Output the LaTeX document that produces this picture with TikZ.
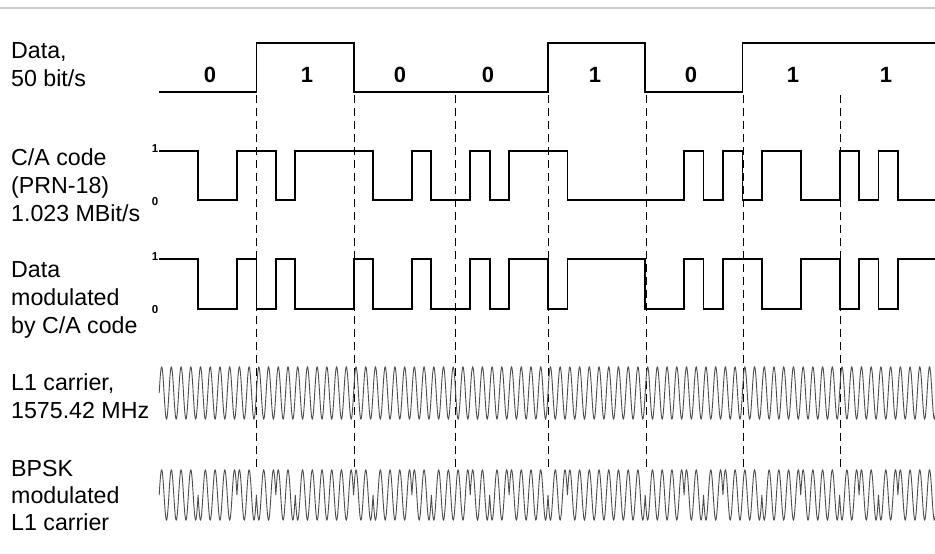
\documentclass[tikz,border=0pt]{standalone}
\usepackage{fontspec}
\setmainfont{Liberation Sans}
\begin{document}
\begin{tikzpicture}[x=1pt,y=-1pt,
  lbl/.style={anchor=base west, inner sep=0pt, font=\fontsize{23.2}{27}\selectfont},
  bitlbl/.style={inner sep=0pt, font=\bfseries\fontsize{22}{26}\selectfont},
  lvl/.style={anchor=east, inner sep=0pt, font=\bfseries\fontsize{11.5}{13}\selectfont},
  sq/.style={line width=1.8pt, line join=miter},
  wave/.style={line width=0.9pt, black!70},
  guide/.style={line width=0.8pt, dash pattern=on 8pt off 5pt}]
\useasboundingbox (0,0) rectangle (935,554);
\fill[white] (0,0) rectangle (935,554);
\draw[gray!40, line width=1.5pt] (0,8) -- (935,8);

% left labels
\node[lbl] (l1a) at (11,58) {Data,};
\node[lbl] (l1b) at (11,86) {50 bit/s};
\node[lbl] (l2a) at (11,165) {C/A code};
\node[lbl] (l2b) at (11,193) {(PRN-18)};
\node[lbl] (l2c) at (11,221) {1.023 MBit/s};
\node[lbl] (l3a) at (11,277) {Data};
\node[lbl] (l3b) at (11,305) {modulated};
\node[lbl] (l3c) at (11,333) {by C/A code};
\node[lbl] (l4a) at (11,390) {L1 carrier,};
\node[lbl] (l4b) at (11,418) {1575.42 MHz};
\node[lbl] (l5a) at (11,476) {BPSK};
\node[lbl] (l5b) at (11,503) {modulated};
\node[lbl] (l5c) at (11,530) {L1 carrier};

% level labels
\node[lvl] (ca1) at (158.5,149) {1};
\node[lvl] (ca0) at (158.5,202) {0};
\node[lvl] (dm1) at (158.5,257) {1};
\node[lvl] (dm0) at (158.5,310) {0};

% bit labels
\node[bitlbl] (b0) at (210,75) {0};
\node[bitlbl] (b1) at (307,75) {1};
\node[bitlbl] (b2) at (400,75) {0};
\node[bitlbl] (b3) at (488,75) {0};
\node[bitlbl] (b4) at (595,75) {1};
\node[bitlbl] (b5) at (691,75) {0};
\node[bitlbl] (b6) at (793,75) {1};
\node[bitlbl] (b7) at (886,75) {1};

% dashed guides
\foreach \gx in {256.5,354,455,548,646,743,840.5}
  \draw[guide] (\gx,95) -- (\gx,470);

\begin{scope}[shift={(159.2pt,0pt)}, x=19.44pt]
% data
\draw[sq] (0,92) -- (5,92) -- (5,43) -- (10,43) -- (10,92) -- (20,92) -- (20,43) -- (25,43) -- (25,92) -- (30,92) -- (30,43) -- (39.9,43);
% C/A code
\draw[sq] (0,151) -- (2,151) -- (2,200) -- (4,200) -- (4,151) -- (6,151) -- (6,200) -- (7,200) -- (7,151) -- (11,151) -- (11,200) -- (13,200) -- (13,151) -- (14,151) -- (14,200) -- (16,200) -- (16,151) -- (17,151) -- (17,200) -- (18,200) -- (18,151) -- (21,151) -- (21,200) -- (27,200) -- (27,151) -- (28,151) -- (28,200) -- (29,200) -- (29,151) -- (30,151) -- (30,200) -- (31,200) -- (31,151) -- (33,151) -- (33,200) -- (35,200) -- (35,151) -- (36,151) -- (36,200) -- (37,200) -- (37,151) -- (38,151) -- (38,200) -- (39.9,200);
% data modulated by C/A
\draw[sq] (0,259) -- (2,259) -- (2,309) -- (4,309) -- (4,259) -- (5,259) -- (5,309) -- (6,309) -- (6,259) -- (7,259) -- (7,309) -- (10,309) -- (10,259) -- (11,259) -- (11,309) -- (13,309) -- (13,259) -- (14,259) -- (14,309) -- (16,309) -- (16,259) -- (17,259) -- (17,309) -- (18,309) -- (18,259) -- (20,259) -- (20,309) -- (21,309) -- (21,259) -- (25,259) -- (25,309) -- (27,309) -- (27,259) -- (28,259) -- (28,309) -- (29,309) -- (29,259) -- (31,259) -- (31,309) -- (33,309) -- (33,259) -- (35,259) -- (35,309) -- (36,309) -- (36,259) -- (37,259) -- (37,309) -- (38,309) -- (38,259) -- (39.9,259);
% L1 carrier
\draw[wave] (0,393) \foreach \i in {0,...,79} {
  sin (\i*0.5+0.125,367) cos (\i*0.5+0.25,393) sin (\i*0.5+0.375,419) cos (\i*0.5+0.5,393) };
% BPSK modulated carrier
\draw[wave] (0,495) \foreach \m [count=\k from 0, evaluate=\m as \s using 2*\m-1] in
  {1,1,0,0,1, 0,1,0,0,0, 1,0,0,1,0, 0,1,0,1,1, 0,1,1,1,1, 0,0,1,0,1, 1,0,0,1,1, 0,1,0,1,1} {
  sin (\k+0.125,495-25*\s) cos (\k+0.25,495) sin (\k+0.375,495+25*\s) cos (\k+0.5,495)
  sin (\k+0.625,495-25*\s) cos (\k+0.75,495) sin (\k+0.875,495+25*\s) cos (\k+1,495) };
\end{scope}
\end{tikzpicture}
\end{document}
